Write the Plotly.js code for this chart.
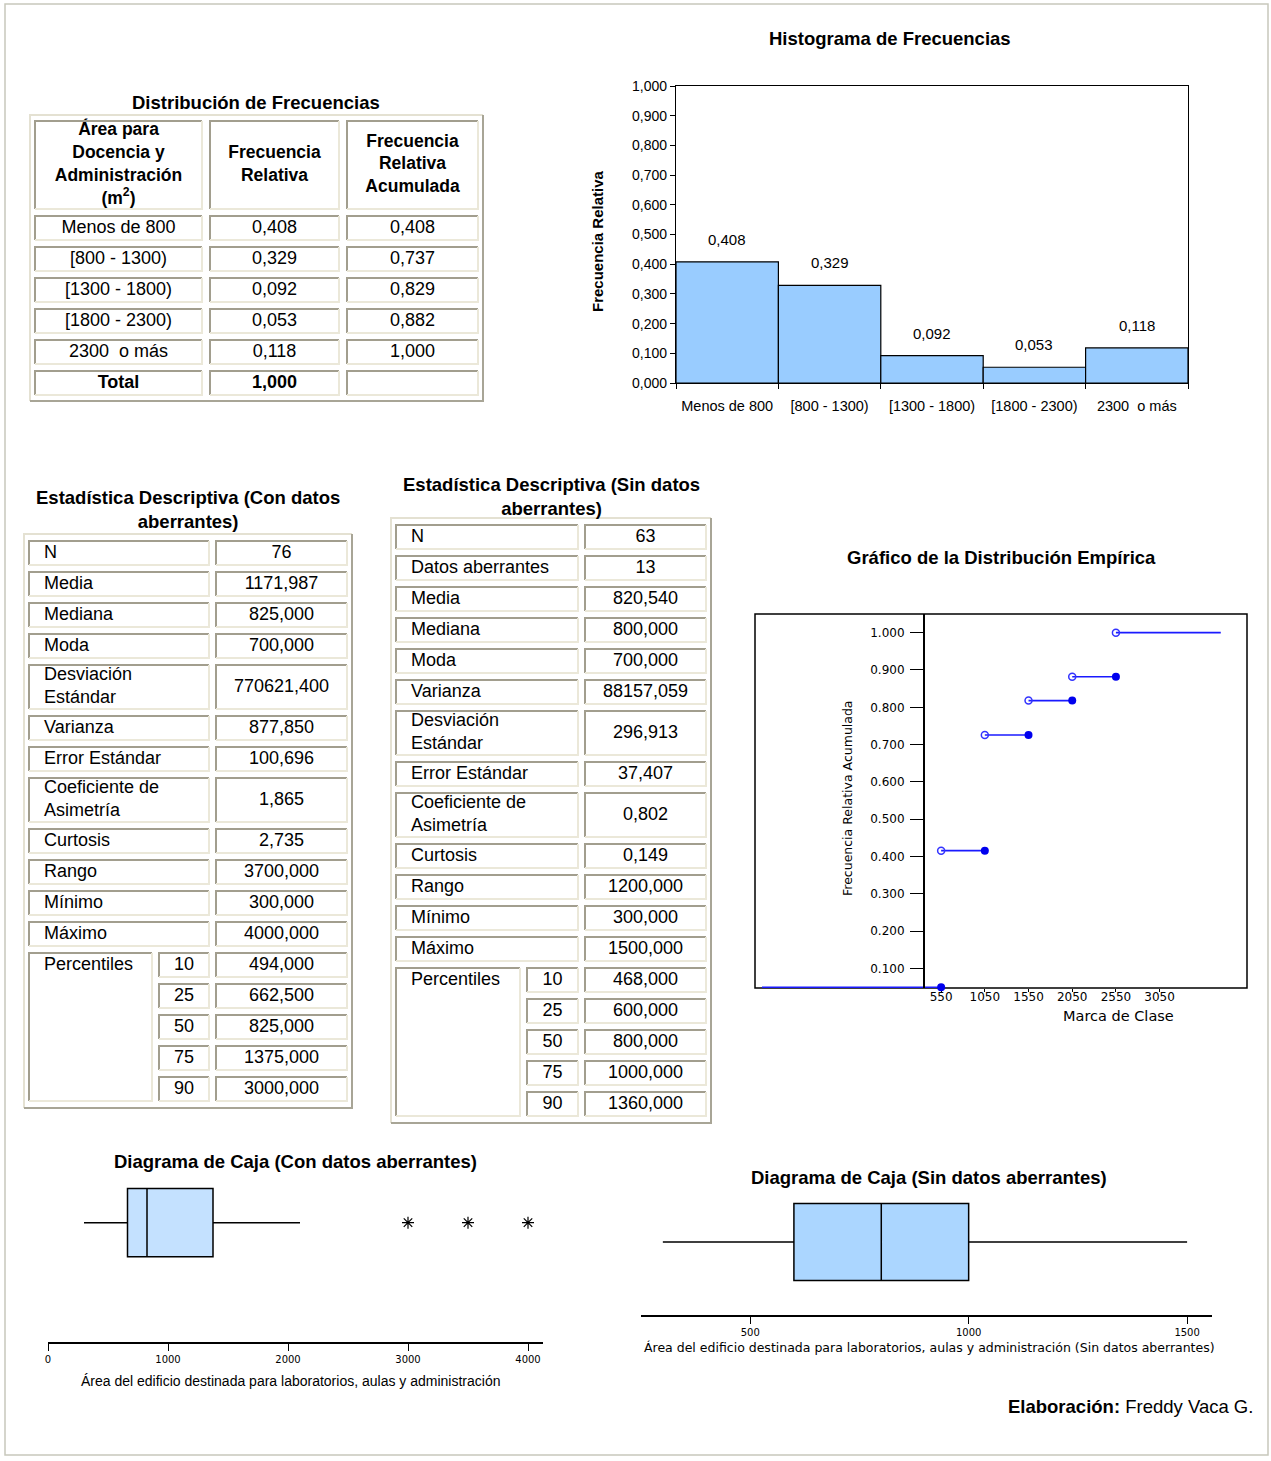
<!DOCTYPE html>
<html>
<head>
<meta charset="utf-8">
<script src="https://cdn.plot.ly/plotly-3.0.1.min.js"></script>
<style>
html, body { margin: 0; padding: 0; background: #ffffff; }
#chart { width: 1271px; height: 1461px; }
</style>
</head>
<body>
<div id="chart"></div>
<script>
// ======================= DATA =======================
// Frequency distribution
const classLabels = ['Menos de 800', '[800 - 1300)', '[1300 - 1800)', '[1800 - 2300)', '2300  o más'];
const relFreq = [0.408, 0.329, 0.092, 0.053, 0.118];
const cumFreq = [0.408, 0.737, 0.829, 0.882, 1.000];
const relFreqTotal = 1.000;
const totalLabel = 'Total';
const freqHeaders = ['Área para<br>Docencia y<br>Administración<br>(m<sup>2</sup>)', 'Frecuencia<br>Relativa', 'Frecuencia<br>Relativa<br>Acumulada'];

// Descriptive statistics (with outliers)
const conLabels = ['N', 'Media', 'Mediana', 'Moda', 'Desviación<br>Estándar', 'Varianza', 'Error Estándar', 'Coeficiente de<br>Asimetría', 'Curtosis', 'Rango', 'Mínimo', 'Máximo'];
const conValues = [76, 1171.987, 825.000, 700.000, 770621.400, 877.850, 100.696, 1.865, 2.735, 3700.000, 300.000, 4000.000];
// Descriptive statistics (without outliers)
const sinLabels = ['N', 'Datos aberrantes', 'Media', 'Mediana', 'Moda', 'Varianza', 'Desviación<br>Estándar', 'Error Estándar', 'Coeficiente de<br>Asimetría', 'Curtosis', 'Rango', 'Mínimo', 'Máximo'];
const sinValues = [63, 13, 820.540, 800.000, 700.000, 88157.059, 296.913, 37.407, 0.802, 0.149, 1200.000, 300.000, 1500.000];
const countLabels = ['N', 'Datos aberrantes'];
const percentileLabel = 'Percentiles';
const percentileLevels = [10, 25, 50, 75, 90];
const conPercentiles = [494.000, 662.500, 825.000, 1375.000, 3000.000];
const sinPercentiles = [468.000, 600.000, 800.000, 1000.000, 1360.000];

// Empirical distribution (step function)
const ecdfFrom = [-1500, 550, 1050, 1550, 2050, 2550];
const ecdfTo = [550, 1050, 1550, 2050, 2550, 3750];
const ecdfLevel = [0.05, 0.416, 0.726, 0.818, 0.882, 1.000];
const ecdfXTickVals = [550, 1050, 1550, 2050, 2550, 3050];
const ecdfXTickText = ['550', '1050', '1550', '2050', '2550', '3050'];
const ecdfYTickVals = [0.1, 0.2, 0.3, 0.4, 0.5, 0.6, 0.7, 0.8, 0.9, 1.0];
const ecdfYTickText = ['0.100', '0.200', '0.300', '0.400', '0.500', '0.600', '0.700', '0.800', '0.900', '1.000'];

// Box plots
const conFences = [300, 2100];
const conQuartiles = [662.5, 825, 1375];
const conOutliers = [3000, 3500, 4000];
const sinFences = [300, 1500];
const sinQuartiles = [600, 800, 1000];

// ======================= HELPERS =======================
const W = 1271, H = 1461;
const FONT = '"Liberation Sans", Arial, Helvetica, sans-serif';
const PIX = '"DejaVu Sans", Verdana, sans-serif';
const TITLE = 18.5;
const fx = p => p / W;
const fy = p => 1 - p / H;
const fmt3 = v => v.toFixed(3).replace('.', ',');
const bold = t => t.split('<br>').map(s => s ? '<b>' + s + '</b>' : s).join('<br>');

const traces = [];
const shapes = [];
const annotations = [];

const layout = {
  width: W, height: H, autosize: false,
  margin: { l: 0, r: 0, t: 0, b: 0, pad: 0 },
  paper_bgcolor: '#ffffff',
  plot_bgcolor: 'rgba(0,0,0,0)',
  font: { family: FONT, color: '#000000', size: 14 },
  separators: ',.',
  showlegend: false,
  hovermode: false,
  bargap: 0,
  shapes: shapes,
  annotations: annotations
};

function ann(text, x, y, font, extra) {
  annotations.push(Object.assign({
    xref: 'paper', yref: 'paper', x: fx(x), y: fy(y),
    xanchor: 'center', yanchor: 'middle', showarrow: false,
    text: text, font: Object.assign({ family: FONT, size: TITLE, color: '#000' }, font || {})
  }, extra || {}));
}

// ======================= HISTOGRAM =======================
traces.push({
  type: 'bar', x: classLabels, y: relFreq, xaxis: 'x', yaxis: 'y',
  marker: { color: '#99ccff', line: { color: '#000000', width: 1.2 } },
  hoverinfo: 'skip'
});
layout.xaxis = {
  domain: [fx(676), fx(1188)], anchor: 'y', type: 'category', tickangle: 0,
  tickson: 'boundaries', ticks: 'outside', ticklen: 5, tickcolor: '#000', ticklabelstandoff: 9,
  showline: true, linecolor: '#000', linewidth: 1.2, mirror: true,
  showgrid: false, zeroline: false, tickfont: { size: 14.5 }, fixedrange: true
};
layout.yaxis = {
  domain: [fy(383), fy(86)], anchor: 'x', range: [0, 1], tick0: 0, dtick: 0.1,
  tickformat: '.3f', ticks: 'outside', ticklen: 5, tickcolor: '#000',
  showline: true, linecolor: '#000', linewidth: 1.2, mirror: true,
  showgrid: false, zeroline: false, tickfont: { size: 14 }, fixedrange: true
};
classLabels.forEach((c, i) => {
  annotations.push({
    xref: 'x', yref: 'y', x: c, y: relFreq[i], text: fmt3(relFreq[i]),
    showarrow: false, yanchor: 'bottom', yshift: 12, font: { family: FONT, size: 15, color: '#000' }
  });
});
ann('<b>Histograma de Frecuencias</b>', 890, 38);
ann('<b>Frecuencia Relativa</b>', 598, 241, { size: 15 }, { textangle: -90 });

// ======================= ECDF =======================
const segX = [], segY = [];
ecdfFrom.forEach((x0, i) => {
  segX.push(x0, ecdfTo[i], null);
  segY.push(ecdfLevel[i], ecdfLevel[i], null);
});
traces.push({
  type: 'scatter', mode: 'lines', x: segX, y: segY, xaxis: 'x2', yaxis: 'y2',
  line: { color: '#1a1aff', width: 1.6 }, hoverinfo: 'skip', connectgaps: false
});
traces.push({
  type: 'scatter', mode: 'markers', xaxis: 'x2', yaxis: 'y2',
  x: ecdfTo.slice(0, ecdfTo.length - 1), y: ecdfLevel.slice(0, ecdfLevel.length - 1),
  marker: { symbol: 'circle', size: 8, color: '#0000ee' }, cliponaxis: false, hoverinfo: 'skip'
});
traces.push({
  type: 'scatter', mode: 'markers', xaxis: 'x2', yaxis: 'y2',
  x: ecdfFrom.slice(1), y: ecdfLevel.slice(1),
  marker: { symbol: 'circle-open', size: 7, color: '#3333ff', line: { width: 1.5, color: '#3333ff' } },
  cliponaxis: false, hoverinfo: 'skip'
});
layout.xaxis2 = {
  domain: [fx(755), fx(1247)], anchor: 'y2', range: [-1580, 4050],
  tickmode: 'array', tickvals: ecdfXTickVals, ticktext: ecdfXTickText,
  ticks: 'outside', ticklen: 3, tickcolor: '#000', ticklabelstandoff: -5, showline: false,
  showgrid: false, zeroline: false, layer: 'below traces',
  tickfont: { family: PIX, size: 12, color: '#000' }, fixedrange: true
};
layout.yaxis2 = {
  domain: [fy(988), fy(614)], anchor: 'free', position: fx(923), range: [0.048, 1.05],
  tickmode: 'array', tickvals: ecdfYTickVals, ticktext: ecdfYTickText,
  ticks: 'outside', ticklen: 13, tickcolor: '#000', ticklabelstandoff: 3,
  showline: true, linecolor: '#000', linewidth: 1.5,
  showgrid: false, zeroline: false, tickfont: { family: PIX, size: 12, color: '#000' }, fixedrange: true
};
shapes.push({
  type: 'rect', xref: 'x2 domain', yref: 'y2 domain', x0: 0, x1: 1, y0: 0, y1: 1,
  line: { color: '#000', width: 1.5 }, layer: 'below'
});
ann('<b>Gráfico de la Distribución Empírica</b>', 1001, 557);
ann('Frecuencia Relativa Acumulada', 847, 798, { family: PIX, size: 12.5 }, { textangle: -90 });
ann('Marca de Clase', 1118, 1016, { family: PIX, size: 14.5 });

// ======================= BOX PLOTS =======================
traces.push({
  type: 'box', orientation: 'h', xaxis: 'x3', yaxis: 'y3', y: [0],
  q1: [conQuartiles[0]], median: [conQuartiles[1]], q3: [conQuartiles[2]],
  lowerfence: [conFences[0]], upperfence: [conFences[1]],
  width: 0.8, whiskerwidth: 0, fillcolor: '#c4e1ff',
  line: { color: '#000', width: 1.5 }, boxpoints: false, hoverinfo: 'skip'
});
traces.push({
  type: 'scatter', mode: 'markers', xaxis: 'x3', yaxis: 'y3',
  x: conOutliers, y: conOutliers.map(() => 0),
  marker: { symbol: 'asterisk-open', size: 10, color: '#000', line: { color: '#000', width: 1.2 } },
  hoverinfo: 'skip'
});
layout.xaxis3 = {
  domain: [fx(48), fx(543)], anchor: 'y3', range: [0, 4125], tick0: 0, dtick: 1000,
  ticks: 'outside', ticklen: 7, tickcolor: '#000', showline: true, linecolor: '#000', linewidth: 1.5,
  showgrid: false, zeroline: false, tickfont: { family: PIX, size: 10, color: '#000' }, fixedrange: true
};
layout.yaxis3 = { domain: [fy(1342), fy(1180)], anchor: 'x3', range: [-1.4, 0.5], visible: false, fixedrange: true };
ann('<b>Diagrama de Caja (Con datos aberrantes)</b>', 295, 1161);
ann('Área del edificio destinada para laboratorios, aulas y administración', 290, 1381, { size: 14 });

traces.push({
  type: 'box', orientation: 'h', xaxis: 'x4', yaxis: 'y4', y: [0],
  q1: [sinQuartiles[0]], median: [sinQuartiles[1]], q3: [sinQuartiles[2]],
  lowerfence: [sinFences[0]], upperfence: [sinFences[1]],
  width: 0.9625, whiskerwidth: 0, fillcolor: '#abd6ff',
  line: { color: '#000', width: 1.5 }, boxpoints: false, hoverinfo: 'skip'
});
layout.xaxis4 = {
  domain: [fx(641), fx(1212)], anchor: 'y4', range: [250, 1557], tick0: 0, dtick: 500,
  ticks: 'outside', ticklen: 7, tickcolor: '#000', showline: true, linecolor: '#000', linewidth: 1.5,
  showgrid: false, zeroline: false, tickfont: { family: PIX, size: 10, color: '#000' }, fixedrange: true
};
layout.yaxis4 = { domain: [fy(1315), fy(1195)], anchor: 'x4', range: [-0.9125, 0.5875], visible: false, fixedrange: true };
ann('<b>Diagrama de Caja (Sin datos aberrantes)</b>', 929, 1177);
ann('Área del edificio destinada para laboratorios, aulas y administración (Sin datos aberrantes)', 929, 1347, { family: PIX, size: 12.5 });

// ======================= TABLES =======================
const ROW_H = 24, LINE_EXTRA = 20;
const rowHeightFor = t => ROW_H + (t.split('<br>').length - 1) * LINE_EXTRA;

function buildTable(n, spec) {
  const { left, top, padX, padY, colGap, rowGap, colWidths, rows } = spec;
  const colX = []; let x = padX;
  colWidths.forEach(w => { colX.push(x); x += w + colGap; });
  const width = x - colGap + padX;
  const rowY = []; let y = padY;
  rows.forEach(r => { rowY.push(y); y += r.h + rowGap; });
  const height = y - rowGap + padY;
  const xa = 'x' + n, ya = 'y' + n;
  layout['xaxis' + n] = { domain: [fx(left), fx(left + width)], anchor: ya, range: [0, width], visible: false, fixedrange: true };
  layout['yaxis' + n] = { domain: [fy(top + height), fy(top)], anchor: xa, range: [height, 0], visible: false, fixedrange: true };
  // outer frame (raised)
  const f0 = 1, fw = width - 1, fh = height - 1;
  shapes.push({ type: 'path', xref: xa, yref: ya, path: `M${f0},${fh} L${f0},${f0} L${fw},${f0}`, line: { color: '#e4e1d2', width: 2 } });
  shapes.push({ type: 'path', xref: xa, yref: ya, path: `M${fw},${f0} L${fw},${fh} L${f0},${fh}`, line: { color: '#a8a596', width: 2 } });
  const tx = [], ty = [], tt = [], tp = [], ts = [];
  rows.forEach((row, r) => {
    row.cells.forEach(cell => {
      const span = cell.span || 1, rs = cell.rs || 1;
      const x0 = colX[cell.c], x1 = colX[cell.c + span - 1] + colWidths[cell.c + span - 1];
      const y0 = rowY[r], y1 = rowY[r + rs - 1] + rows[r + rs - 1].h;
      shapes.push({ type: 'path', xref: xa, yref: ya, path: `M${x0},${y1} L${x0},${y0} L${x1},${y0}`, line: { color: '#a29e8e', width: 2 } });
      shapes.push({ type: 'path', xref: xa, yref: ya, path: `M${x1},${y0} L${x1},${y1} L${x0},${y1}`, line: { color: '#ebe8d9', width: 2 } });
      if (cell.text) {
        const left = cell.align === 'left';
        tx.push(left ? x0 + 15 : (x0 + x1) / 2);
        ty.push(rowY[r] + row.h / 2);
        tt.push(cell.text);
        tp.push(left ? 'middle right' : 'middle center');
        ts.push(cell.size || 18);
      }
    });
  });
  traces.push({
    type: 'scatter', mode: 'text', xaxis: xa, yaxis: ya, x: tx, y: ty, text: tt,
    textposition: tp, textfont: { family: FONT, size: ts, color: '#000' }, hoverinfo: 'skip'
  });
}

// Frequency table
const freqRows = [
  { h: 88, cells: freqHeaders.map((t, i) => ({ c: i, text: bold(t), size: 17.5 })) }
].concat(classLabels.map((lab, i) => ({
  h: ROW_H, cells: [{ c: 0, text: lab }, { c: 1, text: fmt3(relFreq[i]) }, { c: 2, text: fmt3(cumFreq[i]) }]
}))).concat([{
  h: ROW_H, cells: [{ c: 0, text: bold(totalLabel) }, { c: 1, text: bold(fmt3(relFreqTotal)) }]
}]);
// empty third cell of the Total row
freqRows[freqRows.length - 1].cells.push({ c: 2, text: '' });
buildTable(5, { left: 29, top: 114, padX: 6, padY: 7, colGap: 8, rowGap: 7, colWidths: [167, 129, 131], rows: freqRows });
ann('<b>Distribución de Frecuencias</b>', 256, 102);

function statRows(labels, values, pcts) {
  const rows = labels.map((lab, i) => ({
    h: rowHeightFor(lab),
    cells: [
      { c: 0, span: 2, text: lab, align: 'left' },
      { c: 2, text: countLabels.includes(lab) ? String(values[i]) : fmt3(values[i]) }
    ]
  }));
  percentileLevels.forEach((p, i) => {
    const cells = [];
    if (i === 0) cells.push({ c: 0, rs: percentileLevels.length, text: percentileLabel, align: 'left' });
    cells.push({ c: 1, text: String(p) }, { c: 2, text: fmt3(pcts[i]) });
    rows.push({ h: ROW_H, cells: cells });
  });
  return rows;
}
buildTable(6, { left: 23, top: 533, padX: 6, padY: 8, colGap: 7, rowGap: 7, colWidths: [123, 50, 131], rows: statRows(conLabels, conValues, conPercentiles) });
ann('<b>Estadística Descriptiva (Con datos<br>aberrantes)</b>', 188, 510);
buildTable(7, { left: 390, top: 517, padX: 6, padY: 8, colGap: 7, rowGap: 7, colWidths: [124, 51, 121], rows: statRows(sinLabels, sinValues, sinPercentiles) });
ann('<b>Estadística Descriptiva (Sin datos<br>aberrantes)</b>', 551, 496);

// ======================= FOOTER / PAGE =======================
ann('<b>Elaboración:</b> Freddy Vaca G.', 1255, 1406, { size: TITLE }, { xanchor: 'right' });
shapes.push({
  type: 'rect', xref: 'paper', yref: 'paper', x0: fx(5), x1: fx(1268), y0: fy(1455), y1: fy(4),
  line: { color: '#c8c8bc', width: 1.5 }, layer: 'below'
});

Plotly.newPlot('chart', traces, layout, { staticPlot: true, displayModeBar: false, responsive: false });
</script>
</body>
</html>
